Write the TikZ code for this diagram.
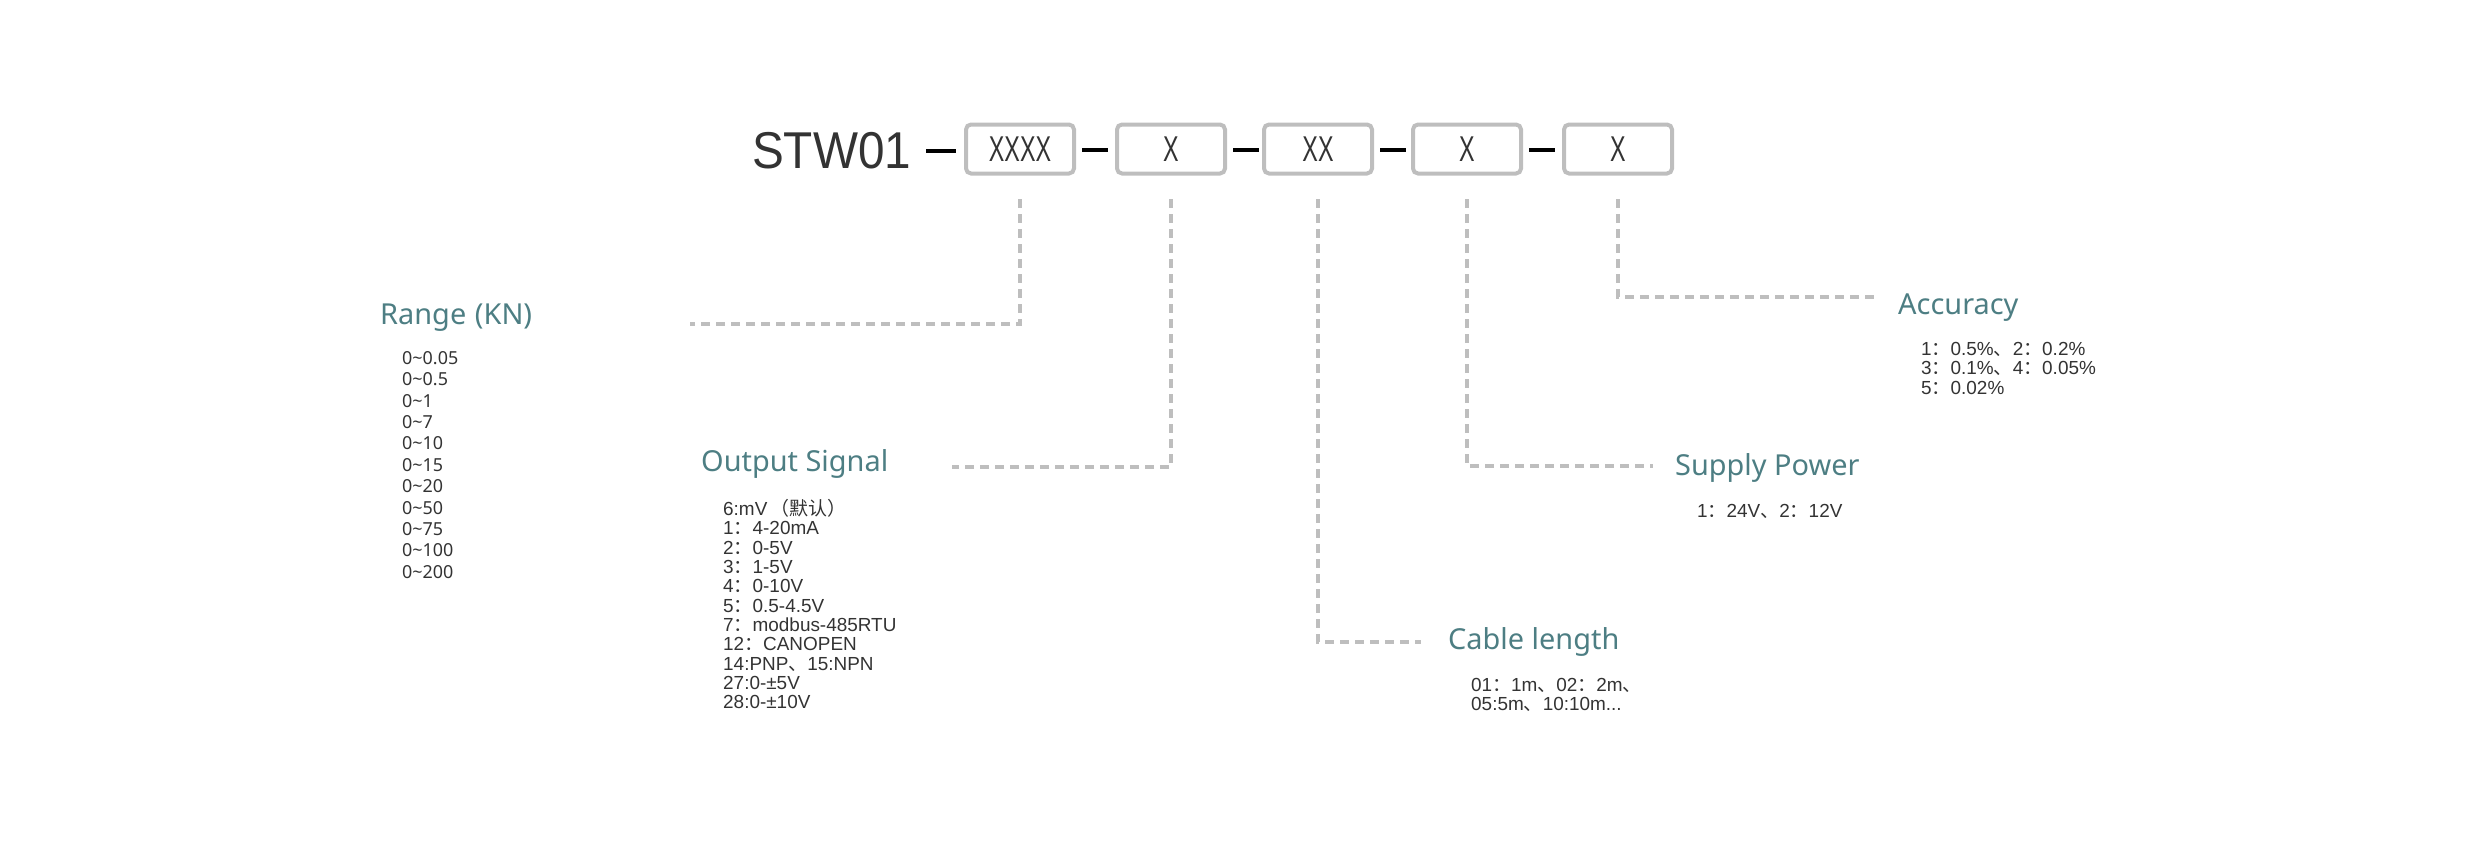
\documentclass[tikz,border=0pt]{standalone}
\usepackage{fontspec}
\setmainfont{Liberation Sans}
\newfontfamily\noto{Noto Sans}
\newfontfamily\cjk{Noto Sans CJK SC}
\definecolor{teal1}{HTML}{4D7E83}
\definecolor{dgray}{HTML}{BEBEBE}
\definecolor{txt}{HTML}{333333}
\begin{document}
\begin{tikzpicture}[x=1bp,y=-1bp,
  box/.style={draw=dgray,line width=4bp,rounded corners=5bp,minimum width=108bp,minimum height=49bp,inner sep=0pt,font=\fontsize{36}{36}\selectfont,text=txt},
  lead/.style={draw=dgray,line width=4bp,dash pattern=on 9bp off 6bp},
  head/.style={anchor=west,inner sep=0pt,text=teal1,font=\noto\fontsize{29}{29}\selectfont},
  item/.style={anchor=north west,inner sep=0pt,text=txt,align=left,font=\fontsize{19}{19.4}\selectfont},
  sep/.style={line width=4bp,black}]
\useasboundingbox (0,0) rectangle (2481,859);
\node[anchor=base west,inner sep=0pt,font=\fontsize{52}{52}\selectfont,text=txt] (stw) at (752,168) {\scalebox{0.92}[1]{STW01}};
\node[box] (b1) at (1020,149) {\scalebox{0.65}[1]{XXXX}};
\node[box] (b2) at (1171,149) {\scalebox{0.65}[1]{X}};
\node[box] (b3) at (1318,149) {\scalebox{0.65}[1]{XX}};
\node[box] (b4) at (1467,149) {\scalebox{0.65}[1]{X}};
\node[box] (b5) at (1618,149) {\scalebox{0.65}[1]{X}};
\draw[sep] (926,151) -- (956,151);
\draw[sep] (b1.east) ++(6,1) -- ++(26,0);
\draw[sep] (b2.east) ++(6,1) -- ++(26,0);
\draw[sep] (b3.east) ++(6,1) -- ++(26,0);
\draw[sep] (b4.east) ++(6,1) -- ++(26,0);
% headings
\node[head] (hr) at (380,318) {Range\hspace{0.3em}(KN)};
\node[head] (ho) at (701,464) {Output Signal};
\node[head] (hc) at (1448,642) {Cable length};
\node[head] (hs) at (1675,468) {Supply Power};
\node[head] (ha) at (1898,308) {Accuracy};
% leaders
\coordinate (r1) at (1020,199); \coordinate (r2) at (1171,199); \coordinate (r3) at (1318,199);
\coordinate (r4) at (1467,199); \coordinate (r5) at (1618,199);
\draw[lead] (r1) |- (690,324);
\draw[lead] (r2) |- (952,467);
\draw[lead] (r3) |- (1421,642);
\draw[lead] (r4) |- (1653,466);
\draw[lead] (r5) |- (1875,297);
% items
\node[item,font=\noto\fontsize{18}{21.5}\selectfont] (ir) at (402,351) {0\textasciitilde0.05\\0\textasciitilde0.5\\0\textasciitilde1\\0\textasciitilde7\\0\textasciitilde10\\0\textasciitilde15\\0\textasciitilde20\\0\textasciitilde50\\0\textasciitilde75\\0\textasciitilde100\\0\textasciitilde200};
\node[item] (io) at (723,499) {6:mV\,{\cjk（默认）}\\1{\cjk：}4-20mA\\2{\cjk：}0-5V\\3{\cjk：}1-5V\\4{\cjk：}0-10V\\5{\cjk：}0.5-4.5V\\7{\cjk：}modbus-485RTU\\12{\cjk：}CANOPEN\\14:PNP{\cjk、}15:NPN\\27:0-±5V\\28:0-±10V};
\node[item] (ic) at (1471,678) {01{\cjk：}1m{\cjk、}02{\cjk：}2m{\cjk、}\\05:5m{\cjk、}10:10m...};
\node[item] (is) at (1697,504) {1{\cjk：}24V{\cjk、}2{\cjk：}12V};
\node[item] (ia) at (1921,342) {1{\cjk：}0.5\%{\cjk、}2{\cjk：}0.2\%\\3{\cjk：}0.1\%{\cjk、}4{\cjk：}0.05\%\\5{\cjk：}0.02\%};
\end{tikzpicture}
\end{document}
